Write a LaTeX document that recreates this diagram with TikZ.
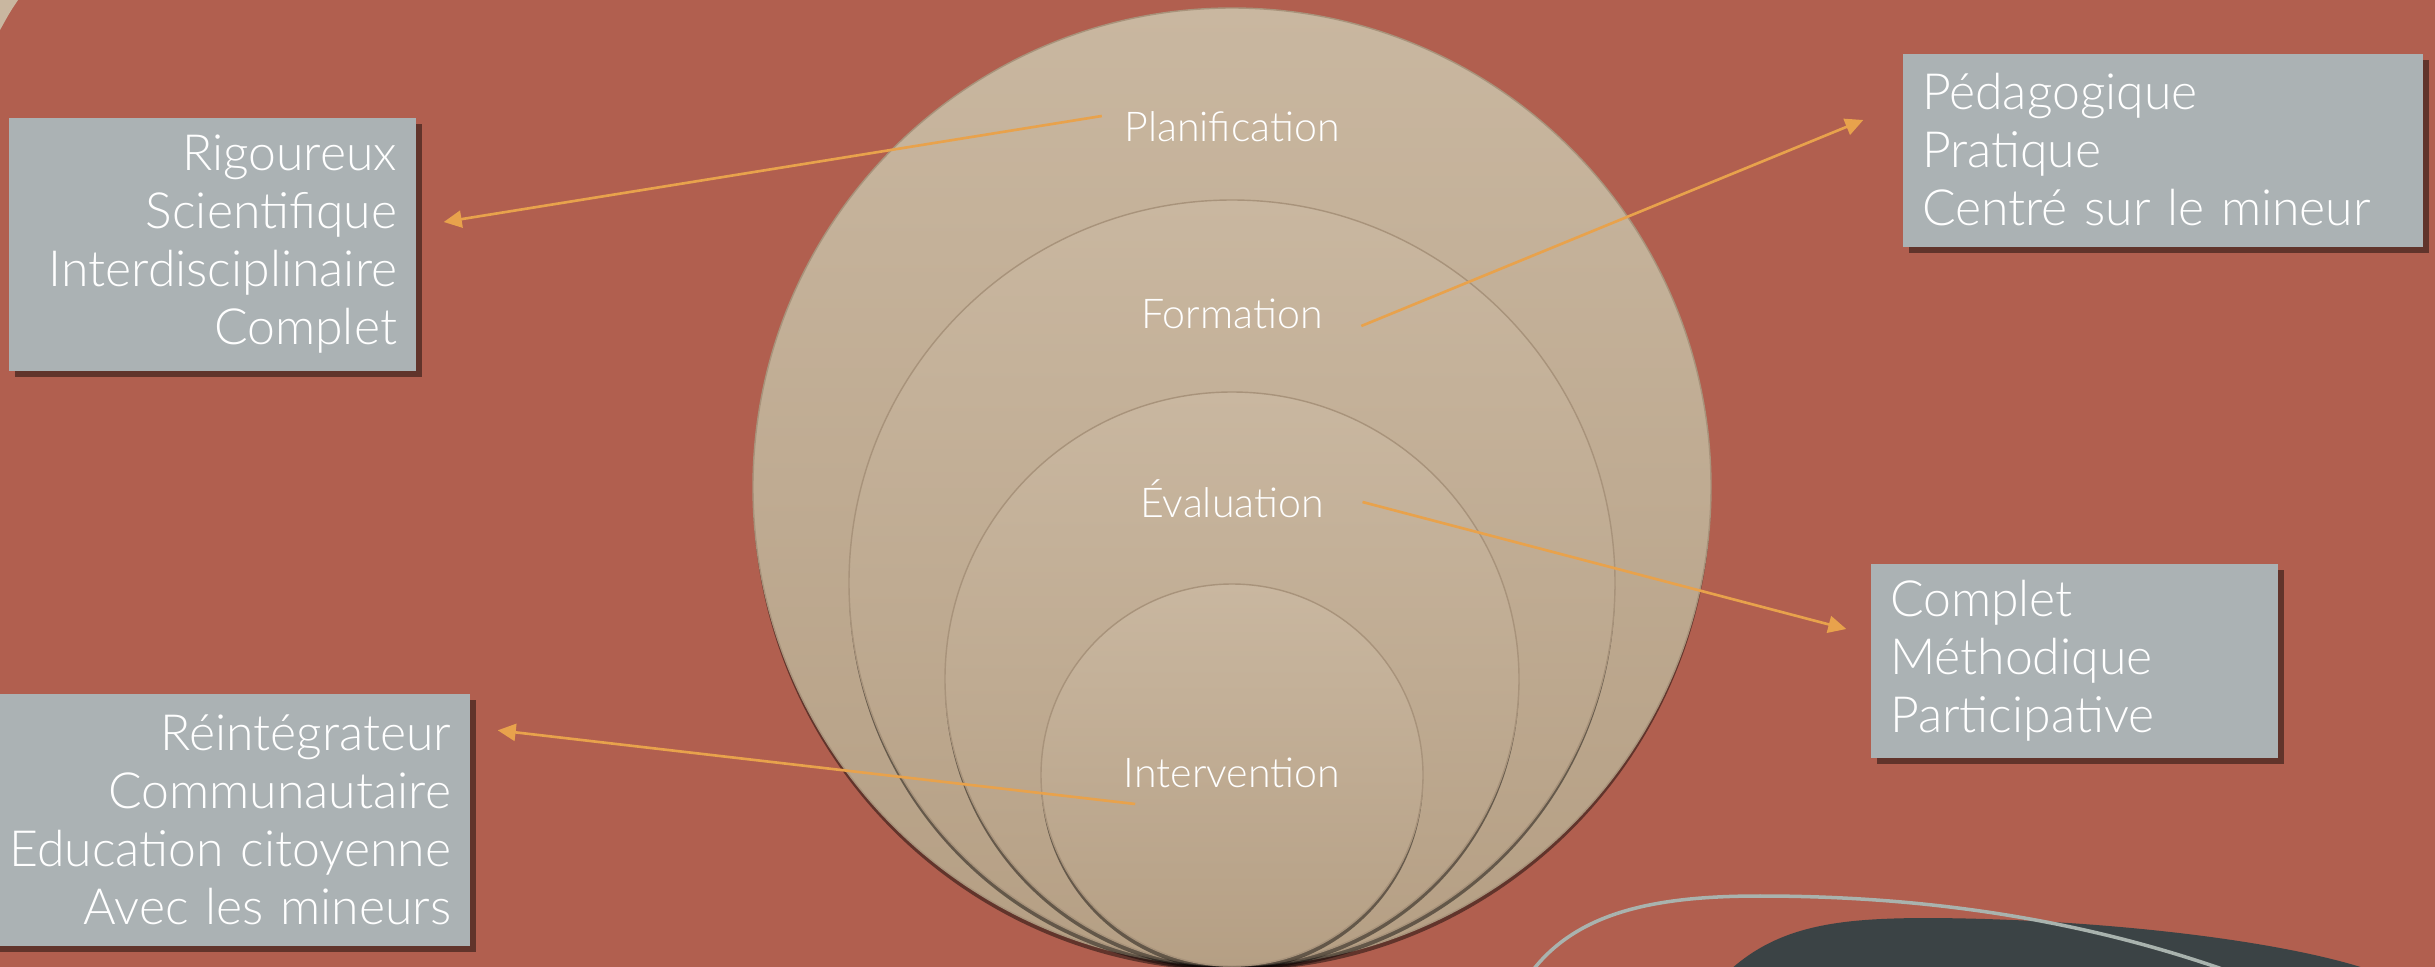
\documentclass[tikz,border=0pt]{standalone}
\usepackage{fontspec}
\setmainfont{Lato Light}
\usetikzlibrary{arrows.meta,shadows}
\definecolor{brick}{HTML}{B15F4F}
\definecolor{sand}{HTML}{C9B7A0}
\definecolor{sanddark}{HTML}{B59F84}
\definecolor{sandline}{HTML}{A8937B}
\definecolor{slate}{HTML}{3B4345}
\definecolor{boxgrey}{HTML}{ABB2B4}
\definecolor{curvegrey}{HTML}{A9B3AE}
\definecolor{arrowc}{HTML}{E8A24C}
\begin{document}
\begin{tikzpicture}[
    circ/.style={top color=sand,bottom color=sanddark,draw=sandline,line width=0.4pt,
        drop shadow={shadow xshift=0pt,shadow yshift=-0.05cm,opacity=0.45,fill=black}},
    lbl/.style={text=white,inner sep=0pt,font=\fontsize{11.7}{14}\selectfont},
    infobox/.style={fill=boxgrey,text=white,inner ysep=0pt,inner xsep=0.19cm,
        font=\fontsize{14.2}{16.5}\selectfont,
        drop shadow={shadow xshift=0.06cm,shadow yshift=-0.06cm,opacity=0.45,fill=black}},
    conn/.style={draw=arrowc,line width=0.75pt,-{Triangle[length=0.18cm,width=0.17cm]}}
    ]
    %% Background
    \fill[brick] (0,0) rectangle (24.35,-9.67);
    \useasboundingbox (0,0) rectangle (24.35,-9.67);
    \fill[sand] (0,0) -- (0.18,0) .. controls (0.1,-0.12) .. (0,-0.30) -- cycle;
    %% Bottom right decoration
    \fill[slate] (17.30,-9.70) .. controls (17.8,-9.25) and (18.4,-9.18) .. (19.3,-9.18)
        .. controls (21.0,-9.19) and (22.8,-9.40) .. (23.70,-9.70) -- cycle;
    \draw[curvegrey,line width=1pt] (15.33,-9.70) .. controls (15.8,-9.10) and (16.6,-8.96) .. (17.6,-8.96)
        .. controls (19.6,-8.96) and (21.1,-9.30) .. (22.25,-9.70);
    %% Nested circles
    \foreach \r in {4.79,3.83,2.87,1.91}
        \path[circ] (12.32,{-9.66+\r}) circle (\r);
    %% Labels
    \node[lbl] (plan) at (12.32,-1.27) {Planification};
    \node[lbl] (form) at (12.32,-3.14) {Formation};
    \node[lbl] (eval) at (12.32,-4.99) {Évaluation};
    \node[lbl] (interv) at (12.32,-7.73) {Intervention};
    %% Boxes
    \node[infobox,minimum width=4.07cm,minimum height=2.53cm,text width=3.69cm,align=right] (rig) at (2.125,-2.445)
        {Rigoureux\\Scientifique\\Interdisciplinaire\\Complet};
    \node[infobox,minimum width=4.70cm,minimum height=2.52cm,text width=4.60cm,align=right] (reint) at (2.21,-8.20)
        {Réintégrateur\\Communautaire\\Education citoyenne\\Avec les mineurs};
    \node[infobox,minimum width=5.20cm,minimum height=1.93cm,text width=4.82cm,align=left] (peda) at (21.63,-1.50)
        {Pédagogique\\Pratique\\Centré sur le mineur};
    \node[infobox,minimum width=4.07cm,minimum height=1.94cm,text width=3.69cm,align=left] (meth) at (20.745,-6.61)
        {Complet\\Méthodique\\Participative};
    %% Connectors
    \draw[conn] ([xshift=-0.22cm,yshift=0.11cm]plan.west) -- ([xshift=0.27cm,yshift=0.225cm]rig.east);
    \draw[conn] ([xshift=0.38cm,yshift=-0.12cm]form.east) -- ([xshift=-0.39cm,yshift=0.30cm]peda.west);
    \draw[conn] ([xshift=0.38cm,yshift=-0.03cm]eval.east) -- ([xshift=-0.24cm,yshift=0.32cm]meth.west);
    \draw[conn] ([xshift=0.12cm,yshift=-0.31cm]interv.west) -- ([xshift=0.27cm,yshift=-0.37cm]reint.north east);
\end{tikzpicture}
\end{document}
